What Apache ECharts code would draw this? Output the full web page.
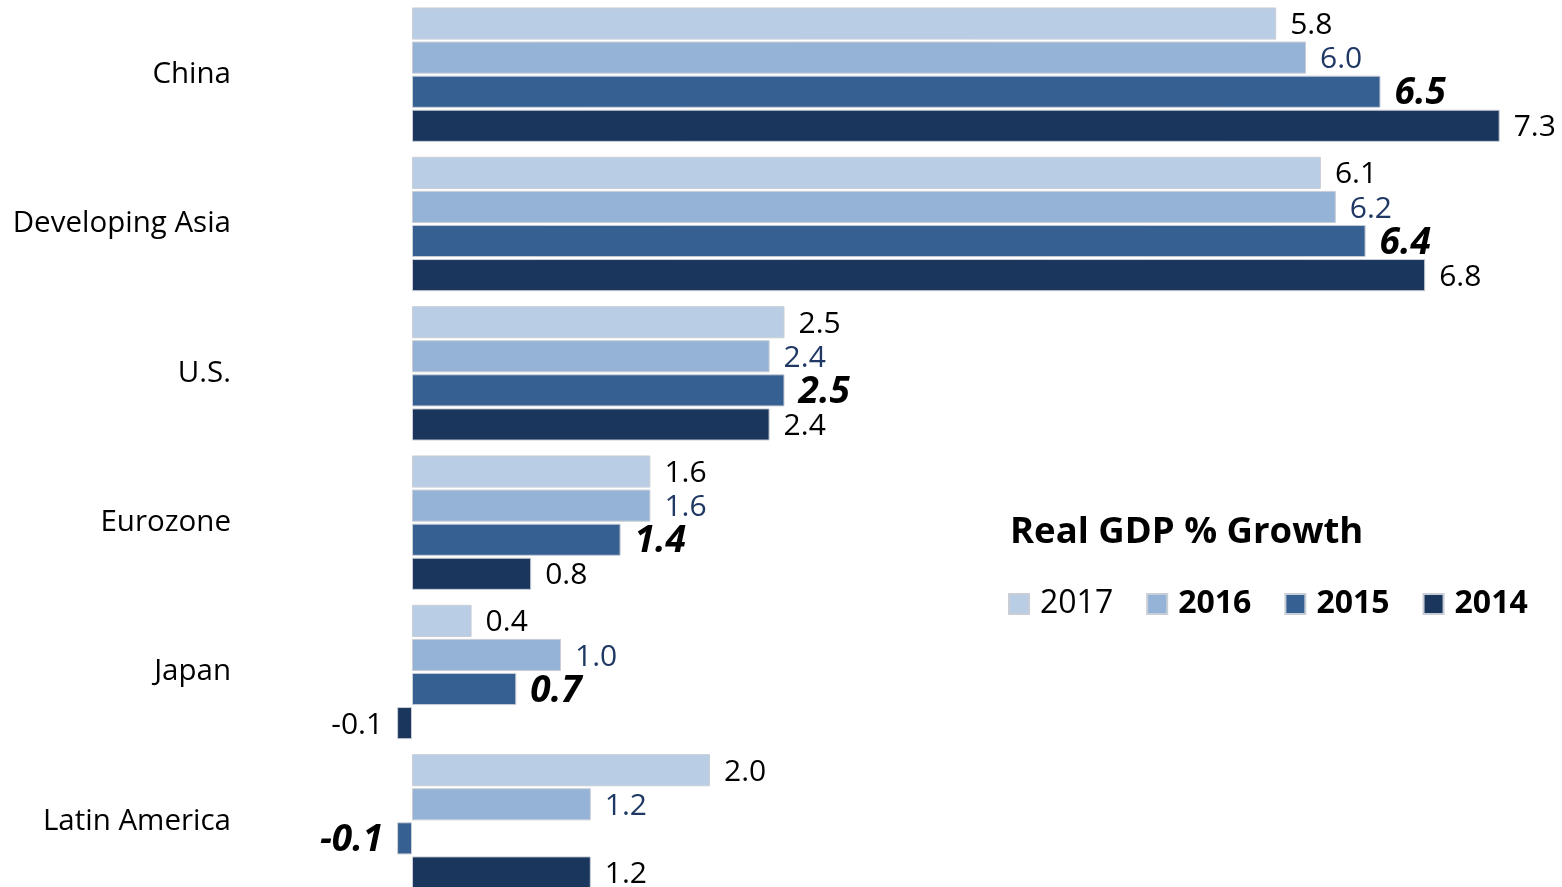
<!DOCTYPE html>
<html>
<head>
<meta charset="utf-8">
<title>Real GDP % Growth</title>
<script src="https://cdn.jsdelivr.net/npm/echarts@6/dist/echarts.min.js"></script>
<style>
html, body { margin: 0; padding: 0; background: #fff; }
#main { width: 1562px; height: 887px; }
</style>
</head>
<body>
<div id="main"></div>
<script>
var regions = ['China', 'Developing Asia', 'U.S.', 'Eurozone', 'Japan', 'Latin America'];
var years = ['2017', '2016', '2015', '2014'];
var gdp2017 = [5.8, 6.1, 2.5, 1.6, 0.4, 2.0];
var gdp2016 = [6.0, 6.2, 2.4, 1.6, 1.0, 1.2];
var gdp2015 = [6.5, 6.4, 2.5, 1.4, 0.7, -0.1];
var gdp2014 = [7.3, 6.8, 2.4, 0.8, -0.1, 1.2];

var font = 'Open Sans';

function barSeries(name, data, color, label) {
    return {
        name: name,
        type: 'bar',
        data: data,
        barCategoryGap: '10%',
        barGap: '6%',
        itemStyle: {
            color: color,
            borderColor: '#c9ced6',
            borderWidth: 1
        },
        label: label
    };
}

function valLabel(extra) {
    var l = {
        show: true,
        position: 'outside',
        distance: 14,
        offset: [0, 2],
        fontFamily: font,
        fontSize: 30,
        color: '#000',
        formatter: function (p) { return p.value.toFixed(1); }
    };
    for (var k in extra) l[k] = extra[k];
    return l;
}

var myChart = echarts.init(document.getElementById('main'));
var option = {
    animation: false,
    title: {
        text: 'Real GDP % Growth',
        left: 1010,
        top: 514,
        padding: 0,
        textStyle: { fontFamily: font, fontSize: 36.5, fontWeight: 'bold', color: '#000' }
    },
    legend: {
        left: 1008,
        top: 588,
        padding: 0,
        icon: 'rect',
        itemWidth: 20,
        itemHeight: 20,
        itemGap: 33,
        textStyle: { fontFamily: font, fontSize: 32, color: '#000', padding: [0, 0, 0, 6] },
        data: [
            { name: '2017', textStyle: { fontWeight: 'normal' } },
            { name: '2016', textStyle: { fontWeight: 'bold' } },
            { name: '2015', textStyle: { fontWeight: 'bold' } },
            { name: '2014', textStyle: { fontWeight: 'bold' } }
        ]
    },
    grid: { left: 114, right: 17.6, top: 0, height: 896, containLabel: false, outerBoundsMode: 'none' },
    xAxis: {
        type: 'value',
        min: -2,
        max: 7.6,
        show: false,
        splitLine: { show: false }
    },
    yAxis: {
        type: 'category',
        data: regions,
        inverse: true,
        axisLine: { show: false },
        axisTick: { show: false },
        axisLabel: { margin: -117, fontFamily: font, fontSize: 29.5, color: '#000' }
    },
    series: [
        barSeries(years[0], gdp2017, '#b9cde5', valLabel({})),
        barSeries(years[1], gdp2016, '#95b3d7', valLabel({ color: '#1f3864' })),
        barSeries(years[2], gdp2015, '#366092', valLabel({ fontSize: 37, fontWeight: 'bold', fontStyle: 'italic' })),
        barSeries(years[3], gdp2014, '#1a365d', valLabel({}))
    ]
};
myChart.setOption(option);
window.addEventListener("resize", function () {
    myChart.resize();
});
</script>
</body>
</html>
